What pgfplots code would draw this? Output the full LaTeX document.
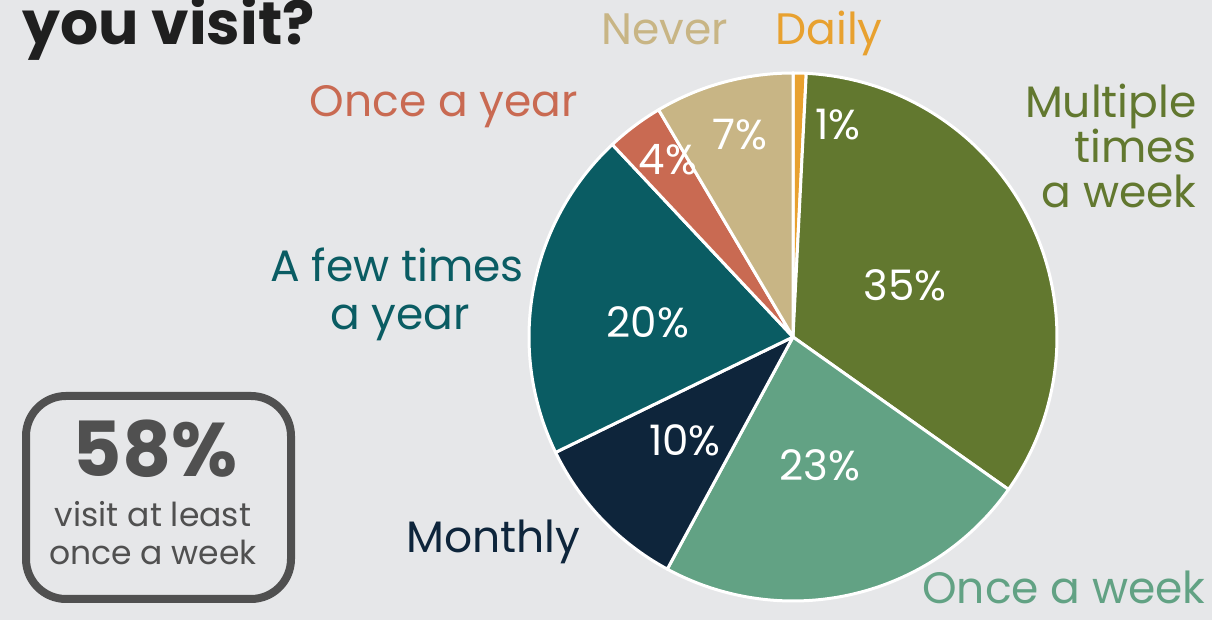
\documentclass[border=0pt]{standalone}
\usepackage{pgfplots}
\pgfplotsset{compat=1.18}
\usepackage{fontspec}
\setmainfont{Poppins}

\definecolor{bg}{HTML}{E6E7E9}
\definecolor{cDaily}{HTML}{E8A12F}
\definecolor{cMulti}{HTML}{62782F}
\definecolor{cWeek}{HTML}{62A284}
\definecolor{cMonth}{HTML}{0E253B}
\definecolor{cFew}{HTML}{0A5C63}
\definecolor{cYear}{HTML}{C96A52}
\definecolor{cNever}{HTML}{C8B585}
\definecolor{boxgrey}{HTML}{505050}

\begin{document}
\begin{tikzpicture}[x=1pt,y=1pt]
\path[use as bounding box, clip] (0,0) rectangle (606,310);
\fill[bg] (0,0) rectangle (606,310);

% pie: slices run clockwise from the top, domain = cumulative share in percent
\begin{axis}[at={(264.5pt,9.5pt)}, anchor=south west,
  scale only axis, width=264pt, height=264pt,
  xmin=-1, xmax=1, ymin=-1, ymax=1,
  hide axis, clip=false]
\pgfplotsset{every axis plot/.append style={draw=white, line width=1.5pt,
  line join=round, samples=120}}
\addplot[fill=cDaily, domain=0:0.8]     ({cos(90-3.6*x)},{sin(90-3.6*x)}) -- (axis cs:0,0) -- cycle;
\addplot[fill=cMulti, domain=0.8:34.8]  ({cos(90-3.6*x)},{sin(90-3.6*x)}) -- (axis cs:0,0) -- cycle;
\addplot[fill=cWeek,  domain=34.8:57.9] ({cos(90-3.6*x)},{sin(90-3.6*x)}) -- (axis cs:0,0) -- cycle;
\addplot[fill=cMonth, domain=57.9:67.8] ({cos(90-3.6*x)},{sin(90-3.6*x)}) -- (axis cs:0,0) -- cycle;
\addplot[fill=cFew,   domain=67.8:88.0] ({cos(90-3.6*x)},{sin(90-3.6*x)}) -- (axis cs:0,0) -- cycle;
\addplot[fill=cYear,  domain=88.0:91.5] ({cos(90-3.6*x)},{sin(90-3.6*x)}) -- (axis cs:0,0) -- cycle;
\addplot[fill=cNever, domain=91.5:100]  ({cos(90-3.6*x)},{sin(90-3.6*x)}) -- (axis cs:0,0) -- cycle;
\end{axis}

% values on the slices
\begin{scope}[every node/.style={text=white, font=\fontsize{21}{23}\selectfont}]
\node at (452.5,167.5) {35\%};
\node at (410,77.5) {23\%};
\node at (324,149) {20\%};
\node at (342.5,90) {10\%};
\node at (370,242.5) {7\%};
\node at (334,230) {4\%};
\node at (419,247.5) {1\%};
\end{scope}

% category labels
\begin{scope}[every node/.style={font=\fontsize{22}{24}\selectfont, inner sep=0pt, text depth=0pt}]
\node[anchor=base, text=cNever] at (332.5,287.5) {Never};
\node[anchor=base, text=cDaily] at (414.5,287.5) {Daily};
\node[anchor=base, text=cYear] at (222,251.5) {Once a year};
\node[anchor=base, text=cFew] at (198.5,169) {A few times};
\node[anchor=base, text=cFew] at (200,145) {a year};
\node[anchor=base east, text=cMulti] at (598.5,251) {Multiple};
\node[anchor=base east, text=cMulti] at (598.5,228.5) {times};
\node[anchor=base east, text=cMulti] at (598.5,206) {a week};
\node[anchor=base, text=cMonth] at (246.75,33.5) {Monthly};
\node[anchor=base east, text=cWeek] at (603,8) {Once a week};
\end{scope}

% title (cut at the top edge)
\node[anchor=base west, inner sep=0pt, text=black!88,
  font=\fontsize{30}{32}\selectfont\bfseries] at (11,287.5) {you visit?};

% summary box
\draw[boxgrey, line width=4pt, rounded corners=20pt] (13,10.5) rectangle (145.5,112);
\node[anchor=base, inner sep=0pt, text=boxgrey,
  font=\fontsize{38}{40}\selectfont\bfseries] at (77.5,71.5) {58\%};
\node[anchor=base, inner sep=0pt, text=boxgrey,
  font=\fontsize{16.5}{18}\selectfont] at (76.5,46.5) {visit at least};
\node[anchor=base, inner sep=0pt, text=boxgrey,
  font=\fontsize{16.5}{18}\selectfont] at (76.5,27.5) {once a week};
\end{tikzpicture}
\end{document}
